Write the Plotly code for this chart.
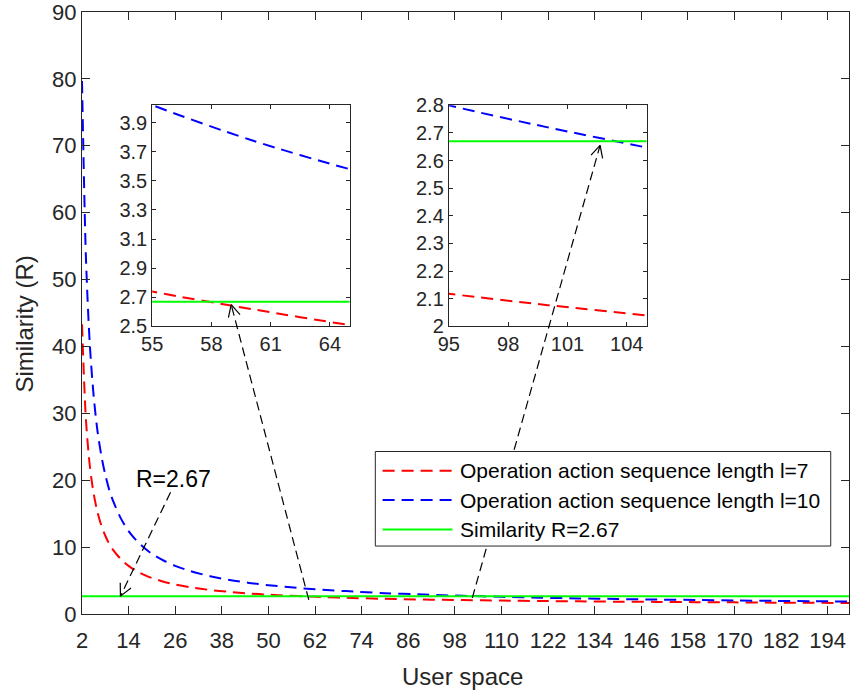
import math
import plotly.graph_objects as go

# ---- data -------------------------------------------------------------
user_space = [2, 3, 4, 5, 6, 7, 8, 9, 10, 12, 14, 16, 18, 20, 23, 26, 30, 35, 40,
              45, 50, 55, 60, 65, 70, 80, 90, 95, 100, 105, 110, 120, 130, 140,
              150, 160, 170, 180, 190, 200]
sim_l7 = [43.3, 29.2, 22.2, 18.0, 15.2, 13.2, 11.7, 10.5, 9.6, 8.2, 7.2, 6.4, 5.85,
          5.38, 4.83, 4.41, 3.99, 3.59, 3.30, 3.07, 2.89, 2.74, 2.62, 2.51, 2.42,
          2.27, 2.16, 2.118, 2.077, 2.04, 2.00, 1.94, 1.89, 1.845, 1.81, 1.77,
          1.74, 1.70, 1.67, 1.65]
sim_l10 = [79.7, 53.5, 40.4, 32.6, 27.3, 23.6, 20.8, 18.6, 16.9, 14.3, 12.4, 11.0,
           9.9, 9.0, 8.0, 7.2, 6.4, 5.65, 5.09, 4.65, 4.31, 4.02, 3.78, 3.58, 3.42,
           3.12, 2.90, 2.80, 2.72, 2.647, 2.57, 2.44, 2.33, 2.24, 2.16, 2.09, 2.02,
           1.96, 1.91, 1.86]
threshold = 2.67
series_names = ["Operation action sequence length l=7",
                "Operation action sequence length l=10",
                "Similarity R=2.67"]
x_ticks = list(range(2, 195, 12))
y_ticks = list(range(0, 91, 10))
inset1_xticks = [55, 58, 61, 64]
inset1_yticks = [2.5, 2.7, 2.9, 3.1, 3.3, 3.5, 3.7, 3.9]
inset2_xticks = [95, 98, 101, 104]
inset2_yticks = [2.0, 2.1, 2.2, 2.3, 2.4, 2.5, 2.6, 2.7, 2.8]

# ---- geometry ---------------------------------------------------------
W, H = 850, 695
L, R, T, B = 82, 0, 9, 81
PW, PH = W - L - R, H - T - B
BOTTOM = H - B

def px(xp):
    return (xp - L) / PW

def py(yp):
    return (BOTTOM - yp) / PH

axes = {
    "main": dict(xdom=(0, 1), ydom=(0, 1), xr=(2, 199.5), yr=(0, 90)),
    "in1": dict(xdom=(px(152.3), px(350)), ydom=(py(325), py(102.5)),
                xr=(55, 65), yr=(2.5, 4.02)),
    "in2": dict(xdom=(px(449.3), px(647.3)), ydom=(py(325), py(102.7)),
                xr=(95, 105), yr=(2.0, 2.8)),
}

def to_px(key, x, y):
    a = axes[key]
    fx = a["xdom"][0] + (x - a["xr"][0]) / (a["xr"][1] - a["xr"][0]) * (a["xdom"][1] - a["xdom"][0])
    fy = a["ydom"][0] + (y - a["yr"][0]) / (a["yr"][1] - a["yr"][0]) * (a["ydom"][1] - a["ydom"][0])
    return L + fx * PW, BOTTOM - fy * PH

RED, BLUE, GREEN = "#FF0000", "#0000FF", "#00FF00"
AX = "#262626"
FONT = "Liberation Sans, Arial, sans-serif"
DASH = "12px,7px"

fig = go.Figure()

for xa, ya in [("x", "y"), ("x2", "y2"), ("x3", "y3")]:
    fig.add_trace(go.Scatter(x=user_space, y=sim_l7, mode="lines", xaxis=xa, yaxis=ya,
                             name=series_names[0],
                             line=dict(color=RED, width=2, dash=DASH, shape="spline", smoothing=0.8)))
    fig.add_trace(go.Scatter(x=user_space, y=sim_l10, mode="lines", xaxis=xa, yaxis=ya,
                             name=series_names[1],
                             line=dict(color=BLUE, width=2, dash=DASH, shape="spline", smoothing=0.8)))
    fig.add_trace(go.Scatter(x=[user_space[0], user_space[-1]], y=[threshold, threshold],
                             mode="lines", xaxis=xa, yaxis=ya, name=series_names[2],
                             line=dict(color=GREEN, width=2)))

def axis_style(dom, rng, ticks, ticklen, size, anchor, standoff=0):
    return dict(domain=list(dom), range=list(rng), tickvals=ticks, ticks="inside",
                ticklen=ticklen, tickwidth=1, tickcolor=AX, showline=True, linecolor=AX,
                linewidth=1, mirror="ticks", showgrid=False, zeroline=False,
                ticklabeloverflow="allow", ticklabelstandoff=standoff,
                tickfont=dict(family=FONT, size=size, color=AX), anchor=anchor)

a = axes["main"]
fig.update_layout(
    xaxis=axis_style(a["xdom"], a["xr"], x_ticks, 8, 22, "y", standoff=7),
    yaxis=axis_style(a["ydom"], a["yr"], y_ticks, 8, 22, "x"),
)
a = axes["in1"]
fig.update_layout(
    xaxis2=axis_style(a["xdom"], a["xr"], inset1_xticks, 4, 20, "y2"),
    yaxis2=axis_style(a["ydom"], a["yr"], inset1_yticks, 4, 20, "x2"),
)
a = axes["in2"]
fig.update_layout(
    xaxis3=axis_style(a["xdom"], a["xr"], inset2_xticks, 4, 20, "y3"),
    yaxis3=axis_style(a["ydom"], a["yr"], inset2_yticks, 4, 20, "x3"),
)

shapes = []
annotations = []

# ---- arrows (dashed shaft + open head) --------------------------------
def arrow(tail, head, hl=12, hw=6):
    tx, ty = tail
    hx, hy = head
    dx, dy = hx - tx, hy - ty
    n = math.hypot(dx, dy)
    ux, uy = dx / n, dy / n
    nx, ny = -uy, ux
    shapes.append(dict(type="line", xref="paper", yref="paper",
                       x0=px(tx), y0=py(ty), x1=px(hx), y1=py(hy),
                       line=dict(color="black", width=1.2, dash="9px,5px")))
    for s in (1, -1):
        bx = hx - ux * hl + s * nx * hw
        by = hy - uy * hl + s * ny * hw
        shapes.append(dict(type="line", xref="paper", yref="paper",
                           x0=px(bx), y0=py(by), x1=px(hx), y1=py(hy),
                           line=dict(color="black", width=1.2)))

arrow(to_px("main", 24.8, 18.2), to_px("main", 11.9, 2.67))
arrow(to_px("main", 60.4, 2.1), to_px("in1", 59.0, 2.65))
arrow(to_px("main", 102.5, 2.4), to_px("in2", 102.65, 2.655))

annotations.append(dict(text="R=2.67", xref="paper", yref="paper", x=px(174), y=py(478),
                        xanchor="center", yanchor="middle", showarrow=False,
                        font=dict(family=FONT, size=23, color="black")))

# ---- legend -------------------------------------------------------------
shapes.append(dict(type="rect", xref="paper", yref="paper",
                   x0=px(375.7), x1=px(831.7), y0=py(545.7), y1=py(450.7),
                   line=dict(color=AX, width=1), fillcolor="white", layer="above"))
legend_rows = [(series_names[0], RED, DASH, 470.0),
               (series_names[1], BLUE, DASH, 499.5),
               (series_names[2], GREEN, "solid", 529.0)]
for name, col, dash, yrow in legend_rows:
    shapes.append(dict(type="line", xref="paper", yref="paper",
                       x0=px(383), x1=px(453), y0=py(yrow), y1=py(yrow),
                       line=dict(color=col, width=2, dash=dash), layer="above"))
    annotations.append(dict(text=name, xref="paper", yref="paper", x=px(458), y=py(yrow),
                            xanchor="left", yanchor="middle", showarrow=False,
                            font=dict(family=FONT, size=21, color="black")))

# ---- axis titles --------------------------------------------------------
annotations.append(dict(text="User space", xref="paper", yref="paper", x=px(463), y=py(677),
                        xanchor="center", yanchor="middle", showarrow=False,
                        font=dict(family=FONT, size=24, color=AX)))
annotations.append(dict(text="Similarity (R)", xref="paper", yref="paper", x=px(24), y=py(323),
                        xanchor="center", yanchor="middle", showarrow=False, textangle=-90,
                        font=dict(family=FONT, size=24, color=AX)))

fig.update_layout(
    width=W, height=H,
    margin=dict(l=L, r=R, t=T, b=B),
    paper_bgcolor="white", plot_bgcolor="white",
    showlegend=False,
    shapes=shapes, annotations=annotations,
)

fig.write_html("out.html")
